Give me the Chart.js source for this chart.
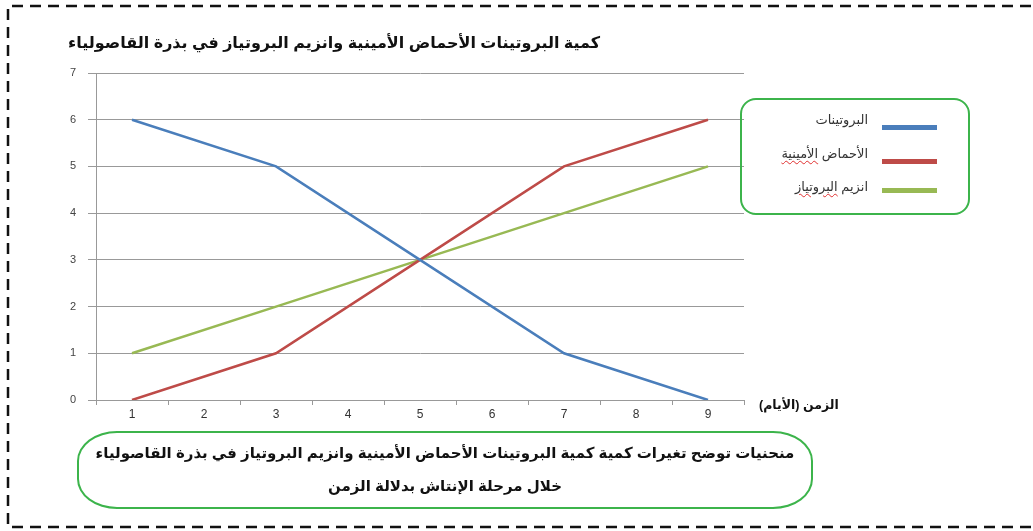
<!DOCTYPE html>
<html lang="ar">
<head>
<meta charset="utf-8">
<script src="https://cdn.jsdelivr.net/npm/chart.js@4/dist/chart.umd.min.js"></script>
<style>
  html,body{margin:0;padding:0;background:#fff;}
  #wrap{position:relative;width:1033px;height:531px;overflow:hidden;font-family:"DejaVu Sans","Noto Sans",sans-serif;}
  #c{position:absolute;left:0;top:0;}
  .abs{position:absolute;direction:rtl;white-space:nowrap;}
  #title{left:68px;top:33px;width:540px;text-align:left;font-weight:bold;font-size:16px;color:#111;font-family:"Liberation Sans","DejaVu Sans",sans-serif;}
  #xtitle{left:759px;top:397px;font-weight:bold;font-size:12.5px;color:#111;font-family:"Liberation Sans","DejaVu Sans",sans-serif;}
  #legend{position:absolute;left:740px;top:98px;width:230px;height:117px;border:2.5px solid #3cb44b;border-radius:16px;box-sizing:border-box;}
  .lg{position:absolute;right:100px;font-size:13px;color:#333;direction:rtl;white-space:nowrap;font-family:"Liberation Sans","DejaVu Sans",sans-serif;}
  .sw{position:absolute;left:140px;width:55px;height:5px;}
  .wavy{text-decoration:underline wavy #e03030;text-decoration-thickness:1px;text-underline-offset:2px;}
  #caption{position:absolute;left:77px;top:431px;width:736px;height:78px;border:2.5px solid #3cb44b;border-radius:40px / 30px;box-sizing:border-box;}
  .cap{position:absolute;left:0;width:100%;text-align:center;font-weight:bold;font-size:15px;color:#111;direction:rtl;white-space:nowrap;font-family:"Liberation Sans","DejaVu Sans",sans-serif;}
</style>
</head>
<body>
<div id="wrap">
  <canvas id="c" width="1033" height="531"></canvas>
  <div id="title" class="abs">كمية البروتينات الأحماض الأمينية وانزيم البروتياز في بذرة القاصولياء</div>
  <div id="xtitle" class="abs">الزمن (الأيام)</div>
  <div id="legend">
    <div class="lg" style="top:12px">البروتينات</div>
    <div class="sw" style="top:25px;background:#4a7ebb"></div>
    <div class="lg" style="top:46px">الأحماض <span class="wavy">الأمينية</span></div>
    <div class="sw" style="top:59px;background:#be4b48"></div>
    <div class="lg" style="top:79px">انزيم <span class="wavy">البروتياز</span></div>
    <div class="sw" style="top:88px;background:#98b954"></div>
  </div>
  <div id="caption">
    <div class="cap" style="top:11px">منحنيات توضح تغيرات كمية كمية البروتينات الأحماض الأمينية وانزيم البروتياز في بذرة القاصولياء</div>
    <div class="cap" style="top:44px">خلال مرحلة الإنتاش بدلالة الزمن</div>
  </div>
</div>
<script>
const days = ['1','2','3','4','5','6','7','8','9'];
const proteins = [6, null, 5, null, 3, null, 1, null, 0];
const aminoAcids = [0, null, 1, null, 3, null, 5, null, 6];
const protease = [1, null, 2, null, 3, null, 4, null, 5];
const seriesNames = ['البروتينات', 'الأحماض الأمينية', 'انزيم البروتياز'];
const yTicks = [0, 1, 2, 3, 4, 5, 6, 7];

const borderPlugin = {
  id: 'dashedFrame',
  beforeDraw(chart) {
    const ctx = chart.ctx;
    ctx.save();
    ctx.strokeStyle = '#111';
    ctx.lineWidth = 2.5;
    ctx.setLineDash([11, 7]);
    ctx.beginPath();
    ctx.moveTo(1031, 6); ctx.lineTo(8, 6); ctx.lineTo(8, 527); ctx.lineTo(1031, 527);
    ctx.stroke();
    ctx.restore();
  }
};

new Chart(document.getElementById('c'), {
  type: 'line',
  data: {
    labels: days,
    datasets: [
      { label: seriesNames[0], data: proteins, borderColor: '#4a7ebb', backgroundColor: '#4a7ebb' },
      { label: seriesNames[1], data: aminoAcids, borderColor: '#be4b48', backgroundColor: '#be4b48' },
      { label: seriesNames[2], data: protease, borderColor: '#98b954', backgroundColor: '#98b954' }
    ]
  },
  options: {
    responsive: false,
    animation: false,
    spanGaps: true,
    elements: { point: { radius: 0 }, line: { borderWidth: 2.5, tension: 0 } },
    layout: { padding: { left: 60, right: 289, top: 73, bottom: 106 } },
    plugins: { legend: { display: false }, title: { display: false }, tooltip: { enabled: false } },
    scales: {
      x: {
        offset: true,
        grid: { offset: true, drawOnChartArea: false, drawTicks: true, tickLength: 5, color: '#999' },
        border: { color: '#999', width: 1 },
        ticks: { color: '#333', font: { size: 12, family: 'Liberation Sans' }, padding: 2 },
        afterFit(s) { s.height = 25; }
      },
      y: {
        min: 0, max: 7,
        afterBuildTicks(s) { s.ticks = yTicks.map(v => ({ value: v })); },
        grid: { color: '#999', lineWidth: 1, tickLength: 8 },
        border: { color: '#999', width: 1 },
        ticks: { color: '#444', font: { size: 11, family: 'Liberation Sans' }, padding: 12 },
        afterFit(s) { s.width = 36; }
      }
    }
  },
  plugins: [borderPlugin]
});
</script>
</body>
</html>
